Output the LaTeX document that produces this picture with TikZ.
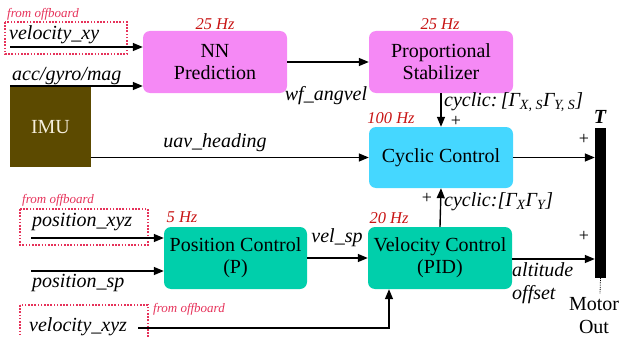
\documentclass[tikz,border=0pt]{standalone}
\usepackage{fontspec}
\setmainfont{Liberation Serif}
\usetikzlibrary{arrows.meta,calc}
\definecolor{nnpink}{RGB}{245,137,245}
\definecolor{cycblue}{RGB}{69,215,255}
\definecolor{ctrlgreen}{RGB}{0,207,171}
\definecolor{imubrown}{RGB}{92,74,0}
\definecolor{hzred}{RGB}{200,20,20}
\definecolor{offred}{RGB}{230,50,90}
\tikzset{
  block/.style={rounded corners=7pt, inner sep=0pt, align=center, font=\fontsize{20}{22}\selectfont},
  sig/.style={line width=1.4pt, -{Triangle[length=10pt,width=8pt]}},
  lbl/.style={inner sep=0pt, font=\fontsize{20}{22}\selectfont\itshape},
  hz/.style={inner sep=0pt, text=hzred, font=\fontsize{16.5}{18}\selectfont\itshape},
  offb/.style={inner sep=0pt, text=offred, font=\fontsize{13}{15}\selectfont\itshape},
  offbox/.style={draw=offred, dash pattern=on 1.6pt off 1.6pt, line width=1.2pt},
  plus/.style={inner sep=0pt, font=\fontsize{18}{19}\selectfont}
}
\begin{document}
\begin{tikzpicture}[x=1pt,y=-1pt]
\useasboundingbox (0,0) rectangle (621,337);

% processing blocks
\node[block, fill=nnpink, minimum width=144pt, minimum height=62pt] (nn) at (215,62) {NN\\Prediction};
\node[block, fill=nnpink, minimum width=144pt, minimum height=62pt] (ps) at (441,62) {Proportional\\Stabilizer};
\node[block, fill=cycblue, minimum width=144pt, minimum height=61pt] (cc) at (441,157.5) {Cyclic Control};
\node[block, fill=ctrlgreen, minimum width=143pt, minimum height=62pt] (pc) at (235.5,258) {Position Control\\(P)};
\node[block, fill=ctrlgreen, minimum width=144pt, minimum height=62pt] (vc) at (440,258) {Velocity Control\\(PID)};
\node[fill=imubrown, minimum width=81pt, minimum height=80pt, inner sep=0pt, text={rgb,255:red,245;green,238;blue,220}, font=\fontsize{20}{22}\selectfont] (imu) at (50.5,127) {IMU};
\node[fill=black, minimum width=11pt, minimum height=150pt, inner sep=0pt] (bar) at (600.5,203) {};

% rate annotations
\node[hz] (hznn) at (215,24) {25 Hz};
\node[hz] (hzps) at (440,24) {25 Hz};
\node[hz] (hzcc) at (391,118) {100 Hz};
\node[hz] (hzvc) at (389,218) {20 Hz};
\node[hz] (hzpc) at (182,217) {5 Hz};

% offboard inputs
\draw[offbox] (5,22) rectangle (127,54);
\draw[offbox] (20,209) rectangle (148,245);
\draw[offbox] (20,305) rectangle (148,345);
\node[offb, anchor=west] (ob1) at (7,14) {from offboard};
\node[offb, anchor=west] (ob2) at (22,200) {from offboard};
\node[offb, anchor=west] (ob3) at (153,309) {from offboard};

% inputs
\coordinate (vxy) at (10,47);
\coordinate (acc) at (10,86);
\coordinate (pxyz) at (31,238);
\coordinate (psp) at (31,271);
\coordinate (vxyz) at (138,328);
\coordinate (vxyzc) at (389,328);
\node[lbl, anchor=west] (lvxy) at (9,35) {velocity\_xy};
\node[lbl, anchor=west] (lacc) at (12,76) {acc/gyro/mag};
\node[lbl, anchor=west] (lpxyz) at (32,222) {position\_xyz};
\node[lbl, anchor=west] (lpsp) at (32,283) {position\_sp};
\node[lbl, anchor=west] (lvxyz) at (29,327) {velocity\_xyz};

\draw[sig] (vxy) -- (vxy -| nn.west);
\draw[sig] (acc) -- (acc -| nn.west);
\draw[sig] (pxyz) -- (pxyz -| pc.west);
\draw[sig] (psp) -- (psp -| pc.west);
\draw[sig] (vxyz) -- (vxyzc) -- (vxyzc |- vc.south);

% internal signals
\draw[sig] (nn.east) -- (ps.west);
\node[lbl] (lwf) at (326,96) {wf\_angvel};
\draw[sig] (ps.south) -- (cc.north);
\node[lbl, anchor=west] (lcs) at (444,102.5) {cyclic:\,[Γ\textsubscript{X, S}Γ\textsubscript{Y, S}]};
\node[plus] (p1) at (456,121) {+};
\draw[sig] (imu.east |- cc.west) -- (cc.west);
\node[lbl] (luav) at (215,143) {uav\_heading};
\draw[sig] (pc.east) -- (vc.west);
\node[lbl] (lvsp) at (337,238) {vel\_sp};
\draw[sig] (vc.north) -- (cc.south);
\node[lbl, anchor=west] (lcv) at (444,202) {cyclic:[Γ\textsubscript{X}Γ\textsubscript{Y}]};
\node[plus] (p2) at (427,198) {+};

% outputs to the motor mixer
\draw[sig] (cc.east) -- (cc.east -| bar.west);
\node[plus] (p3) at (584,139) {+};
\draw[sig] ($(vc.east)+(0,1)$) -- ($(vc.east -| bar.west)+(0,1)$);
\node[plus] (p4) at (584,236) {+};
\node[lbl, anchor=west] (lalt) at (512,270) {altitude};
\node[lbl, anchor=west] (loff) at (512,295) {offset};
\node[inner sep=0pt, font=\fontsize{20}{22}\selectfont\bfseries\itshape] (tlab) at (600,117) {T};
\draw[densely dotted, line width=0.8pt] (bar.south) -- (600,294);
\node[inner sep=0pt, align=center, font=\fontsize{20}{23}\selectfont] (mo) at (594,316) {Motor\\Out};
\end{tikzpicture}
\end{document}
